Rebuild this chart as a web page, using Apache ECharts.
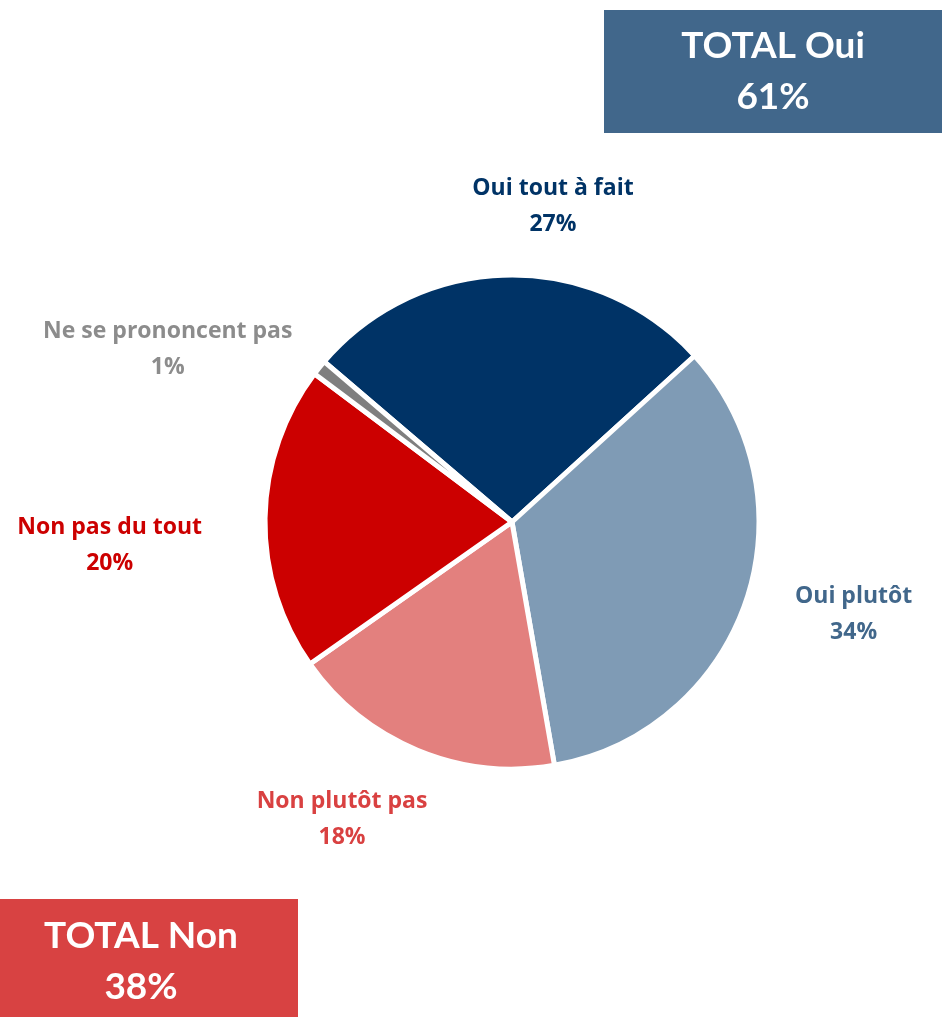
<!DOCTYPE html>
<html>

<head>
    <meta charset="utf-8">
    <title>Oui / Non</title>
    <script src="https://cdn.jsdelivr.net/npm/echarts@6/dist/echarts.min.js"></script>
</head>
<style>
    body {
        margin: 0;
        background: #fff;
    }
</style>

<body>
    <div id="main" style="width: 942px;height:1017px;"></div>
    <script type="text/javascript">
        // données
        var categories = ['Oui tout à fait', 'Oui plutôt', 'Non plutôt pas', 'Non pas du tout', 'Ne se prononcent pas'];
        var values = [27, 34, 18, 20, 1];
        var totalNames = ['TOTAL Oui', 'TOTAL Non'];
        var totalValues = [61, 38];

        var sliceColors = ['#003366', '#7f9bb5', '#e3807e', '#cc0000', '#7f7f7f'];
        var labelColors = ['#003366', '#41678b', '#d94141', '#cc0000', '#8c8c8c'];

        var cx = 512, cy = 522, R = 247;
        var startCw = 310.5; // angle de départ, sens horaire depuis midi
        // placement des étiquettes : [distance, décalage angulaire]
        var labelPolar = [[318, 8.3], [354, -3.7], [343, 7.2], [403, -4.2], [385, -12.1]];

        var total = values.reduce(function (a, b) { return a + b; }, 0);
        var midAngles = [];
        var acc = startCw;
        values.forEach(function (v) {
            var span = v / total * 360;
            midAngles.push(acc + span / 2);
            acc += span;
        });

        var myChart = echarts.init(document.getElementById('main'));

        var option = {
            animation: false,
            series: [{
                type: 'pie',
                center: [cx, cy],
                radius: R,
                startAngle: 90 - startCw,
                clockwise: true,
                avoidLabelOverlap: false,
                itemStyle: {
                    borderColor: '#fff',
                    borderWidth: 5
                },
                label: {
                    show: true,
                    position: 'outside',
                    fontFamily: 'Open Sans',
                    fontWeight: 'bold',
                    fontSize: 23,
                    lineHeight: 36,
                    formatter: '{b}\n{c}%'
                },
                labelLine: { show: false },
                labelLayout: function (params) {
                    var i = params.dataIndex;
                    var a = (midAngles[i] + labelPolar[i][1]) * Math.PI / 180;
                    var d = labelPolar[i][0];
                    return {
                        x: cx + d * Math.sin(a),
                        y: cy - d * Math.cos(a),
                        align: 'center',
                        verticalAlign: 'middle'
                    };
                },
                data: categories.map(function (c, i) {
                    return {
                        name: c,
                        value: values[i],
                        itemStyle: { color: sliceColors[i] },
                        label: { color: labelColors[i] }
                    };
                })
            }],
            graphic: [{
                type: 'rect',
                shape: { x: 604, y: 10, width: 338, height: 123 },
                style: { fill: '#41678b' }
            }, {
                type: 'text',
                x: 773, y: 72,
                style: {
                    text: totalNames[0] + '\n' + totalValues[0] + '%',
                    fill: '#fff', font: 'bold 37px Lato', lineHeight: 51,
                    align: 'center', verticalAlign: 'middle'
                }
            }, {
                type: 'rect',
                shape: { x: 0, y: 899, width: 298, height: 118 },
                style: { fill: '#d84242' }
            }, {
                type: 'text',
                x: 141, y: 962,
                style: {
                    text: totalNames[1] + '\n' + totalValues[1] + '%',
                    fill: '#fff', font: 'bold 37px Lato', lineHeight: 51,
                    align: 'center', verticalAlign: 'middle'
                }
            }]
        };

        myChart.setOption(option);
    </script>
</body>

</html>
